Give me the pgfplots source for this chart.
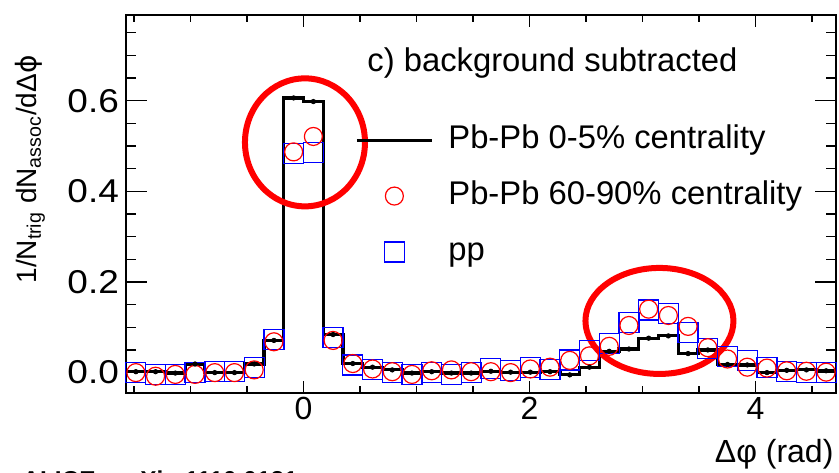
\documentclass[border=0pt]{standalone}
\usepackage{pgfplots}
\pgfplotsset{compat=1.18}
\usepackage{pgfplotstable}
\usepackage{fontspec}
\setmainfont{Liberation Sans}
\newfontfamily\dv{DejaVu Sans}

\pgfplotsset{
  linelegend/.style={legend image code/.code={\draw (0pt,0pt) -- (37.5pt,0pt);}},
  marklegend/.style={legend image code/.code={%
    \draw[mark repeat=2,mark phase=2] plot coordinates {(0pt,0pt) (18.75pt,0pt) (37.5pt,0pt)};}},
}

% per-trigger yield after background subtraction, 36 bins in dphi
\pgfplotstableread{
x       cent    periph  pp
-1.4835  0.002   0.000   0.001
-1.3090  0.002  -0.008  -0.004
-1.1345 -0.001  -0.004  -0.004
-0.9599  0.019  -0.004   0.000
-0.7854  0.000   0.000   0.002
-0.6109  0.000   0.000   0.002
-0.4363  0.019   0.006   0.012
-0.2618  0.071   0.068   0.073
-0.0873  0.606   0.487   0.484
 0.0873  0.598   0.521   0.485
 0.2618  0.084   0.071   0.078
 0.4363  0.020   0.020   0.017
 0.6109  0.012   0.008   0.006
 0.7854  0.006   0.002   0.000
 0.9599 -0.001  -0.004  -0.004
 1.1345  0.002   0.004   0.000
 1.3090 -0.001   0.006  -0.004
 1.4835 -0.001   0.002   0.000
 1.6581  0.003   0.002   0.009
 1.8326  0.001   0.000   0.004
 2.0071  0.001   0.008   0.012
 2.1817  0.002   0.012   0.007
 2.3562 -0.005   0.027   0.028
 2.5307  0.012   0.037   0.048
 2.7053  0.047   0.058   0.065
 2.8798  0.052   0.104   0.111
 3.0543  0.076   0.140   0.138
 3.2289  0.081   0.126   0.131
 3.4034  0.042   0.102   0.089
 3.5779  0.050   0.055   0.053
 3.7525  0.018   0.030   0.035
 3.9270  0.017   0.012   0.026
 4.1015  0.000   0.010   0.012
 4.2761  0.005   0.004   0.003
 4.4506  0.006   0.003   0.001
 4.6251  0.004   0.001   0.001
}\data

\begin{document}
\begin{tikzpicture}
\begin{axis}[
  at={(0pt,0pt)}, anchor=south west,
  scale only axis, width=355pt, height=189pt,
  xmin=-1.5708, xmax=4.7124, ymin=-0.045, ymax=0.789,
  xtick={0,2,4},
  minor xtick={-1.5,-1,-0.5,0.5,1,1.5,2.5,3,3.5,4.5},
  ytick={0,0.2,0.4,0.6},
  minor ytick={0.05,0.1,0.15,0.25,0.3,0.35,0.45,0.5,0.55,0.65,0.7,0.75},
  tick align=inside,
  axis line style={line width=0.75pt},
  every tick/.style={black, line width=0.75pt},
  xtick style={/pgfplots/major tick length=6pt, /pgfplots/minor tick length=3.5pt},
  ytick style={/pgfplots/major tick length=10.5pt, /pgfplots/minor tick length=5pt},
  /pgf/number format/assume math mode=true,
  yticklabel style={/pgf/number format/.cd, fixed, fixed zerofill, precision=1,
    /tikz/.cd, font=\fontsize{16.5}{18}\selectfont, xscale=1.12, inner sep=0pt, xshift=-3pt},
  xticklabel style={font=\fontsize{16}{18}\selectfont, inner sep=0pt, yshift=-2pt},
  xlabel={Δφ (rad)},
  xlabel style={at={(rel axis cs:0.997,0)}, anchor=east, yshift=-30.5pt,
    font=\fontsize{16}{18}\selectfont, inner sep=0pt},
  ylabel={1/N\textsubscript{trig} dN\textsubscript{assoc}/dΔ{\dv ϕ}},
  ylabel style={at={(rel axis cs:-0.1352,0.894)}, anchor=east,
    font=\fontsize{14}{16}\selectfont, inner sep=0pt},
  legend style={at={(rel axis cs:0.3225,0.521)}, anchor=west, draw=none, fill=none,
    inner sep=0pt, row sep=12pt, column sep=7.5pt,
    font=\fontsize{16.4}{19}\selectfont,
    nodes={inner sep=0pt, text height=12pt, text depth=4pt}},
  legend cell align=left,
]
\addlegendimage{black, line width=1.5pt, linelegend}
\addlegendentry{Pb-Pb 0-5\% centrality}
\addlegendimage{red, only marks, mark=o, mark size=4.5pt, mark options={line width=0.6pt}, marklegend}
\addlegendentry{Pb-Pb 60-90\% centrality}
\addlegendimage{blue, only marks, mark=square, mark size=5pt, mark options={line width=0.6pt}, marklegend}
\addlegendentry{pp}

\addplot[forget plot, blue, only marks, mark=square, mark size=5pt, mark options={line width=0.6pt}]
  table[x=x, y=pp] {\data};
\addplot[forget plot, red, only marks, mark=o, mark size=4.5pt, mark options={line width=0.6pt}]
  table[x=x, y=periph] {\data};
\addplot[forget plot, black, line width=1.6pt, const plot mark mid]
  table[x=x, y=cent] {\data};
\addplot[forget plot, black, line width=1.6pt] coordinates {(-1.5708,0.002) (-1.4835,0.002)};
\addplot[forget plot, black, line width=1.6pt] coordinates {(4.6251,0.004) (4.7124,0.004)};
\addplot[forget plot, black, only marks, mark=*, mark size=1.1pt,
  error bars/.cd, y dir=both, y fixed=0.004, error mark=none,
  error bar style={line width=0.8pt}]
  table[x=x, y=cent] {\data};

\node[anchor=west, font=\fontsize{16.4}{19}\selectfont, inner sep=0pt]
  at (rel axis cs:0.3394,0.873) {c) background subtracted};

\draw[red, line width=3pt] (axis cs:0.013,0.508) ellipse [x radius=30pt, y radius=32pt];
\draw[red, line width=3pt] (axis cs:3.15,0.114) ellipse [x radius=37pt, y radius=26.5pt];
\end{axis}
\node[anchor=base west, font=\bfseries\fontsize{12.2}{14}\selectfont, inner sep=0pt]
  at (-52pt,-47.5pt) {ALICE - arXiv:1110.0121};
\pgfresetboundingbox
\useasboundingbox (-63pt,-39.5pt) rectangle (356.5pt,196.5pt);
\end{tikzpicture}
\end{document}
